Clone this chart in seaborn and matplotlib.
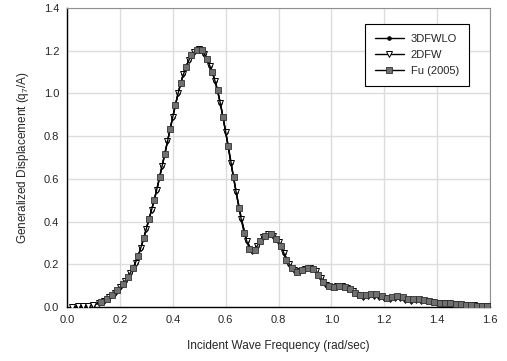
import numpy as np
import pandas as pd
import matplotlib
matplotlib.use("Agg")
import matplotlib.pyplot as plt
import seaborn as sns

# ---- data ----
x_2dfw = [0.02, 0.04, 0.06, 0.08, 0.10, 0.12, 0.14, 0.16, 0.18, 0.20,
          0.22, 0.24, 0.26, 0.28, 0.30, 0.32, 0.34, 0.36, 0.38, 0.40,
          0.42, 0.44, 0.46, 0.48, 0.50, 0.52, 0.54, 0.56, 0.58, 0.60,
          0.62, 0.64, 0.66, 0.68, 0.70, 0.72, 0.74, 0.76, 0.78, 0.80,
          0.82, 0.84, 0.86, 0.88, 0.90, 0.92, 0.94, 0.96, 0.98, 1.00,
          1.02, 1.04, 1.06, 1.08, 1.10, 1.12, 1.14, 1.16, 1.18, 1.20,
          1.22, 1.24, 1.26, 1.28, 1.30, 1.32, 1.34, 1.36, 1.38, 1.40,
          1.42, 1.44, 1.46, 1.48, 1.50, 1.52, 1.54, 1.56, 1.58, 1.60]
y_2dfw = [0.002, 0.003, 0.004, 0.006, 0.010, 0.018, 0.030, 0.045, 0.066, 0.092,
          0.122, 0.160, 0.207, 0.278, 0.366, 0.455, 0.550, 0.662, 0.775, 0.890,
          1.000, 1.090, 1.155, 1.195, 1.208, 1.185, 1.130, 1.060, 0.955, 0.820,
          0.675, 0.537, 0.410, 0.309, 0.262, 0.287, 0.326, 0.342, 0.333, 0.305,
          0.255, 0.200, 0.172, 0.168, 0.180, 0.182, 0.168, 0.135, 0.104, 0.095,
          0.096, 0.097, 0.090, 0.075, 0.058, 0.048, 0.050, 0.053, 0.047, 0.040,
          0.037, 0.042, 0.042, 0.034, 0.030, 0.032, 0.030, 0.026, 0.022, 0.021,
          0.019, 0.018, 0.016, 0.013, 0.011, 0.010, 0.008, 0.006, 0.005, 0.003]

x_fu = [0.13, 0.15, 0.17, 0.19, 0.21, 0.23, 0.25, 0.27, 0.29, 0.31,
        0.33, 0.35, 0.37, 0.39, 0.41, 0.43, 0.45, 0.47, 0.49, 0.51,
        0.53, 0.55, 0.57, 0.59, 0.61, 0.63, 0.65, 0.67, 0.69, 0.71,
        0.73, 0.75, 0.77, 0.79, 0.81, 0.83, 0.85, 0.87, 0.89, 0.91,
        0.93, 0.95, 0.97, 0.99, 1.01, 1.03, 1.05, 1.07, 1.09, 1.11,
        1.13, 1.15, 1.17, 1.19, 1.21, 1.23, 1.25, 1.27, 1.29, 1.31,
        1.33, 1.35, 1.37, 1.39, 1.41, 1.43, 1.45, 1.47, 1.49, 1.51,
        1.53, 1.55, 1.57, 1.59]
y_fu = [0.023, 0.037, 0.055, 0.078, 0.106, 0.140, 0.182, 0.240, 0.322, 0.410,
        0.500, 0.607, 0.715, 0.833, 0.945, 1.050, 1.125, 1.180, 1.205, 1.203,
        1.160, 1.100, 1.015, 0.890, 0.754, 0.607, 0.465, 0.345, 0.272, 0.265,
        0.310, 0.334, 0.340, 0.320, 0.285, 0.222, 0.183, 0.166, 0.175, 0.183,
        0.178, 0.152, 0.118, 0.097, 0.095, 0.097, 0.095, 0.084, 0.066, 0.056,
        0.057, 0.061, 0.060, 0.051, 0.044, 0.048, 0.052, 0.046, 0.038, 0.037,
        0.038, 0.033, 0.027, 0.023, 0.021, 0.019, 0.018, 0.015, 0.012, 0.011,
        0.009, 0.007, 0.005, 0.004]

x_3d = x_2dfw
y_3d = y_2dfw

x_ticks = [0.0, 0.2, 0.4, 0.6, 0.8, 1.0, 1.2, 1.4, 1.6]
y_ticks = [0.0, 0.2, 0.4, 0.6, 0.8, 1.0, 1.2, 1.4]

# ---- plotting ----
sns.set_style("white")
plt.rcParams['font.family'] = ['Liberation Sans', 'DejaVu Sans']
plt.rcParams['mathtext.fontset'] = 'custom'
plt.rcParams['mathtext.rm'] = 'Liberation Sans'
plt.rcParams['mathtext.it'] = 'Liberation Sans:italic'

fig = plt.figure(figsize=(5.07, 3.61), dpi=100)
ax = fig.add_axes([67/507, 1-307/361, (490-67)/507, (307-8)/361])

df3 = pd.DataFrame({"x": x_3d, "y": y_3d})
df2 = pd.DataFrame({"x": x_2dfw, "y": y_2dfw})
dff = pd.DataFrame({"x": x_fu, "y": y_fu})

sns.lineplot(data=df3, x="x", y="y", ax=ax, color="black", lw=1.0,
             marker="o", markersize=2.5, markerfacecolor="black",
             markeredgecolor="black", label="3DFWLO", zorder=3)
sns.lineplot(data=df2, x="x", y="y", ax=ax, color="black", lw=1.0,
             marker="v", markersize=4.3, markerfacecolor="white",
             markeredgecolor="black", markeredgewidth=0.7,
             label="2DFW", zorder=4)
sns.lineplot(data=dff, x="x", y="y", ax=ax, color="black", lw=1.0,
             marker="s", markersize=3.8, markerfacecolor="#707070",
             markeredgecolor="#303030", markeredgewidth=0.6,
             label="Fu (2005)", zorder=5)

ax.set_xlim(0, 1.6)
ax.set_ylim(0, 1.4)
ax.set_xticks(x_ticks)
ax.set_yticks(y_ticks)
ax.set_xticklabels([f"{v:.1f}" for v in x_ticks])
ax.set_yticklabels([f"{v:.1f}" for v in y_ticks])
ax.tick_params(axis="both", labelsize=8, direction="inout", length=5,
               width=0.8, color="black", pad=3)
ax.grid(True, color="#dcdcdc", lw=1.0)
ax.set_axisbelow(True)

for s in ["left", "bottom"]:
    ax.spines[s].set_color("black")
    ax.spines[s].set_linewidth(1.0)
for s in ["top", "right"]:
    ax.spines[s].set_color("#909090")
    ax.spines[s].set_linewidth(0.8)

ax.set_xlabel("Incident Wave Frequency (rad/sec)", fontsize=8.5, labelpad=11)
ax.set_ylabel("Generalized Displacement (q$_7$/A)", fontsize=8.5, labelpad=9)

leg = ax.legend(loc="upper right", bbox_to_anchor=(0.95, 0.946), fontsize=8,
                frameon=True, fancybox=False, edgecolor="black",
                framealpha=1, handlelength=2.6, borderpad=0.9,
                labelspacing=0.55, handletextpad=0.6, borderaxespad=0)
leg.get_frame().set_linewidth(0.8)

fig.savefig("out.png", dpi=100)
